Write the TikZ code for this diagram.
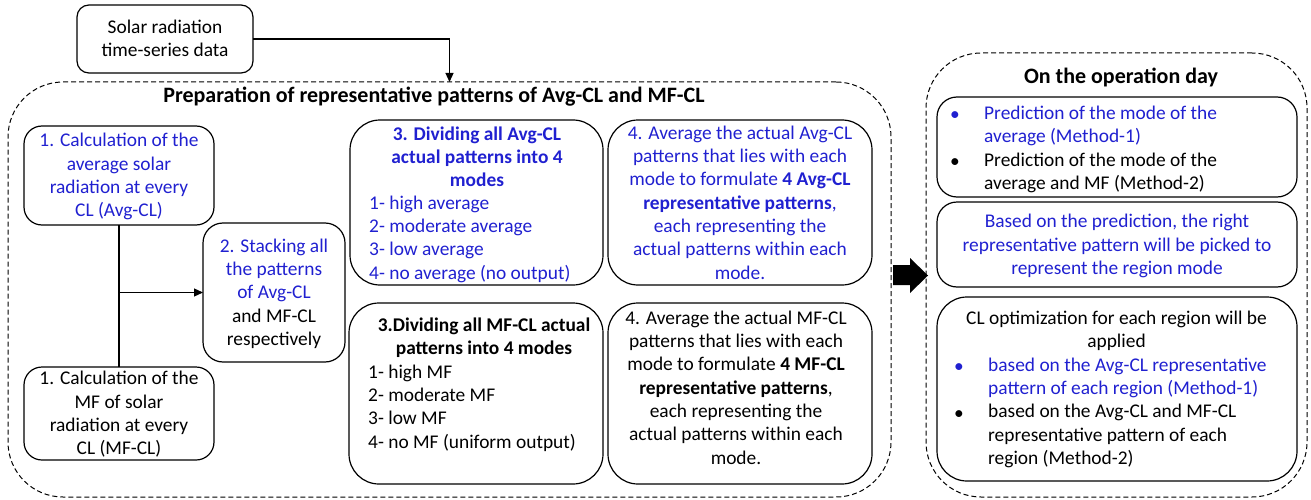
\documentclass[tikz,border=0pt]{standalone}
\usepackage{fontspec}
\setmainfont{Carlito}
\usetikzlibrary{arrows.meta}
\definecolor{bt}{RGB}{32,32,208}
\begin{document}
\begin{tikzpicture}[x=1pt,y=-1pt,
  box/.style={draw, line width=1.2pt, rounded corners=#1, inner sep=0pt, outer sep=0pt},
  box/.default=18pt,
  dbox/.style={draw, dash pattern=on 5pt off 3pt, line width=1pt, rounded corners=55pt, inner sep=0pt, outer sep=0pt},
  txt/.style={inner sep=0pt, font=\fontsize{19.4}{23.3}\selectfont, align=center, yshift=-3pt,
    execute at begin node=\strut, execute at end node=\strut},
  ltxt/.style={txt, align=left},
  ttl/.style={inner sep=0pt, font=\fontsize{22}{26}\selectfont\bfseries},
  arr/.style={line width=1.2pt, -{Triangle[length=9pt,width=8pt]}},
  ln/.style={line width=1.2pt}
]
\useasboundingbox (0,0) rectangle (1311,500);

% dashed containers
\node[dbox, minimum width=883pt, minimum height=415pt] (prep) at (449.5,289.5) {};
\node[dbox, minimum width=381pt, minimum height=444pt] (op) at (1116.5,275) {};
\node[ttl] (preptitle) at (434,97) {Preparation of representative patterns of Avg-CL and MF-CL};
\node[ttl] (optitle) at (1121,77) {On the operation day};

% source
\node[box=12pt, minimum width=176pt, minimum height=68pt] (solar) at (165,39) {};
\node[txt] (solart) at (solar.center) {Solar radiation\\time-series data};
\draw[arr] (solar.east) -| (prep.north);

% step 1 and 2
\node[box, minimum width=190pt, minimum height=99pt] (b1a) at (119,175.5) {};
\node[txt, text=bt] (b1at) at (b1a.center) {1. Calculation of the\\average solar\\radiation at every\\CL (Avg-CL)};
\node[box, minimum width=190pt, minimum height=93pt] (b1b) at (119,413.5) {};
\node[txt] (b1bt) at (b1b.center) {1. Calculation of the\\MF of solar\\radiation at every\\CL (MF-CL)};
\node[box=20pt, minimum width=142pt, minimum height=139pt] (b2) at (274,292.5) {};
\node[txt] (b2t) at (b2.center) {\textcolor{bt}{2. Stacking all}\\\textcolor{bt}{the patterns}\\\textcolor{bt}{of Avg-CL}\\and MF-CL\\respectively};
\draw[ln] (b1a.south) -- (b1b.north);
\draw[arr] (b1a.south |- b2.west) -- (b2.west);

% step 3 and 4 (Avg)
\node[box=30pt, minimum width=253pt, minimum height=165pt] (b3a) at (476.5,202.5) {};
\node[txt, text=bt, font=\fontsize{19.4}{23.3}\selectfont\bfseries] (b3ah) at (477,157) {3. Dividing all Avg-CL\\actual patterns into 4\\modes};
\node[ltxt, text=bt, anchor=west] (b3al) at (369,238) {1- high average\\2- moderate average\\3- low average\\4- no average (no output)};
\node[box=30pt, minimum width=264pt, minimum height=165pt] (b4a) at (740,202.5) {};
\node[txt, text=bt] (b4at) at (740,203) {4. Average the actual Avg-CL\\patterns that lies with each\\mode to formulate \textbf{4 Avg-CL}\\\textbf{representative patterns},\\each representing the\\actual patterns within each\\mode.};

% step 3 and 4 (MF)
\node[box=30pt, minimum width=254pt, minimum height=181pt] (b3b) at (476,393.5) {};
\node[txt, font=\fontsize{19.4}{23.3}\selectfont\bfseries] (b3bh) at (484,336.5) {3.Dividing all MF-CL actual\\patterns into 4 modes};
\node[ltxt, anchor=west] (b3bl) at (368,407) {1- high MF\\2- moderate MF\\3- low MF\\4- no MF (uniform output)};
\node[box=30pt, minimum width=264pt, minimum height=181pt] (b4b) at (740,393.5) {};
\node[txt] (b4bt) at (736,388) {4. Average the actual MF-CL\\patterns that lies with each\\mode to formulate \textbf{4 MF-CL}\\\textbf{representative patterns},\\each representing the\\actual patterns within each\\mode.};

% big arrow
\fill (893,265) -- (910,265) -- (910,258) -- (928,275.5) -- (910,293) -- (910,285) -- (893,285) -- cycle;

% operation day boxes
\node[box=20pt, minimum width=360pt, minimum height=100pt] (r1) at (1117,147) {};
\node[txt, text=bt] (r1b1) at (955,113) {•};
\node[ltxt, text=bt, anchor=west] (r1i1) at (984,125) {Prediction of the mode of the\\average (Method-1)};
\node[txt] (r1b2) at (955,160) {•};
\node[ltxt, anchor=west] (r1i2) at (984,171.5) {Prediction of the mode of the\\average and MF (Method-2)};

\node[box=20pt, minimum width=360pt, minimum height=85pt] (r2) at (1117,244.5) {};
\node[txt, text=bt] (r2t) at (1117,245) {Based on the prediction, the right\\representative pattern will be picked to\\represent the region mode};

\node[box=30pt, minimum width=360pt, minimum height=184pt] (r3) at (1117,389) {};
\node[txt] (r3h) at (1116.5,330) {CL optimization for each region will be\\applied};
\node[txt, text=bt] (r3b1) at (959,365) {•};
\node[ltxt, text=bt, anchor=west] (r3i1) at (988,376.5) {based on the Avg-CL representative\\pattern of each region (Method-1)};
\node[txt] (r3b2) at (959,412) {•};
\node[ltxt, anchor=west] (r3i2) at (988,435) {based on the Avg-CL and MF-CL\\representative pattern of each\\region (Method-2)};
\end{tikzpicture}
\end{document}
